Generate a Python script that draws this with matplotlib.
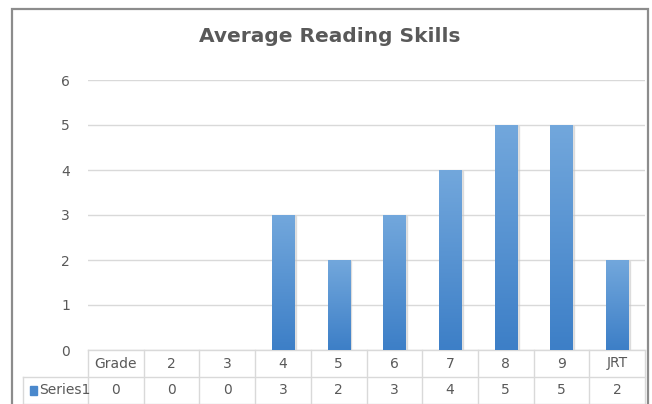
import matplotlib.pyplot as plt
import numpy as np
from matplotlib.patches import Rectangle
from matplotlib.colors import LinearSegmentedColormap

plt.rcParams['font.family'] = ['Liberation Sans Narrow', 'DejaVu Sans']

grades = ['Grade', '2', '3', '4', '5', '6', '7', '8', '9', 'JRT']
series1 = [0, 0, 0, 3, 2, 3, 4, 5, 5, 2]
series_name = 'Series1'
y_ticks = [0, 1, 2, 3, 4, 5, 6]

txt = '#595959'
line = '#d9d9d9'

W, H = 652, 404
fig = plt.figure(figsize=(W / 100, H / 100), dpi=100)
fig.patch.set_facecolor('white')

# outer chart border
fig.add_artist(Rectangle((12 / W, -0.05), 636 / W, 1.05 - 9 / H, transform=fig.transFigure,
                         fill=False, edgecolor='#8c8c8c', linewidth=1.6))

ax = fig.add_axes([88 / W, 54 / H, 557 / W, 270 / H])
x = np.arange(len(grades))
bars = ax.bar(x, series1, width=0.4, color='none', zorder=3)

# vertical gradient fill per bar
cmap = LinearSegmentedColormap.from_list('blue', ['#3d7fc7', '#72a7dc'])
grad = np.linspace(0, 1, 100).reshape(-1, 1)
for b in bars:
    h = b.get_height()
    if h <= 0:
        continue
    x0, w = b.get_x(), b.get_width()
    ax.add_patch(Rectangle((x0 + 0.03, -0.02), w, h, color='#c8c8c8', alpha=0.5, zorder=2))
    ax.imshow(grad, cmap=cmap, origin='lower', aspect='auto',
              extent=(x0, x0 + w, 0, h), zorder=3)

ax.set_xlim(-0.5, len(grades) - 0.5)
ax.set_ylim(0, 6)
ax.set_yticks(y_ticks)
ax.yaxis.grid(True, color=line, linewidth=1)
ax.set_axisbelow(True)
ax.tick_params(axis='y', length=0, pad=13, labelsize=10, labelcolor=txt)
ax.tick_params(axis='x', length=0, labelbottom=False)
for s in ax.spines.values():
    s.set_visible(False)

# data table below the plot
row = 0.1
tr = ax.get_xaxis_transform()
kw = dict(color=line, linewidth=1, transform=tr, clip_on=False)
for yy in (0, -row, -2 * row):
    x_start = -0.5 if yy == 0 else -0.5 - 65 / 55.7
    ax.plot([x_start, len(grades) - 0.5], [yy, yy], **kw)
for i in range(len(grades) + 1):
    ax.plot([i - 0.5, i - 0.5], [0, -2 * row - 0.05], **kw)
ax.plot([-0.5 - 65 / 55.7] * 2, [-row, -2 * row - 0.05], **kw)

for i, (g, v) in enumerate(zip(grades, series1)):
    ax.text(i, -row / 2, g, ha='center', va='center', fontsize=10, color=txt, transform=tr)
    ax.text(i, -1.5 * row, str(v), ha='center', va='center', fontsize=10, color=txt, transform=tr)

ax.add_patch(Rectangle((-0.5 - 58 / 55.7, -1.5 * row - 0.018), 7 / 55.7, 0.036,
                       transform=tr, clip_on=False, color='#4a88cc'))
ax.text(-0.5 - 49 / 55.7, -1.5 * row, series_name, ha='left', va='center',
        fontsize=10, color=txt, transform=tr)

fig.text(330 / W, 1 - 37 / H, 'Average Reading Skills', ha='center', va='center',
         fontsize=14.5, fontweight='bold', color=txt)

fig.savefig('out.png', dpi=100)
